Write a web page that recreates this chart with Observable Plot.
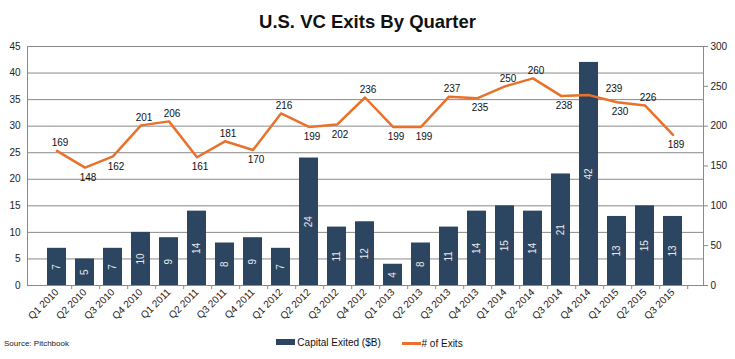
<!DOCTYPE html>
<html>
<head>
<meta charset="utf-8">
<script src="https://cdn.jsdelivr.net/npm/d3@7"></script>
<script src="https://cdn.jsdelivr.net/npm/@observablehq/plot@0.6"></script>
<style>
  html, body { margin: 0; padding: 0; background: #fff; }
  body { width: 735px; height: 359px; font-family: "Liberation Sans", Arial, sans-serif; position: relative; overflow: hidden; }
  #title { height: 42px; line-height: 44px; text-align: center; font-weight: bold; font-size: 18.5px; color: #111; }
  #chart svg { display: block; }
  #foot { position: relative; height: 29px; }
  #source { position: absolute; left: 4px; top: 7px; font-size: 8px; color: #222; }
  #legend { position: absolute; left: 4px; right: 0; top: 4px; text-align: center; font-size: 10px; color: #111; }
  .item { display: inline-flex; align-items: center; margin: 0 9px; }
  .sw-bar { display: inline-block; width: 19px; height: 6px; background: #2C4560; margin-right: 2px; }
  .sw-line { display: inline-block; width: 19px; height: 3px; background: #E8722C; margin-right: 1px; }
</style>
</head>
<body>
<div id="title">U.S. VC Exits By Quarter</div>
<div id="chart"></div>
<div id="foot">
  <div id="source">Source: Pitchbook</div>
  <div id="legend">
    <span class="item"><span class="sw-bar"></span>Capital Exited ($B)</span>
    <span class="item"><span class="sw-line"></span># of Exits</span>
  </div>
</div>
<script>
const quarters = ["Q1 2010","Q2 2010","Q3 2010","Q4 2010","Q1 2011","Q2 2011","Q3 2011","Q4 2011",
  "Q1 2012","Q2 2012","Q3 2012","Q4 2012","Q1 2013","Q2 2013","Q3 2013","Q4 2013",
  "Q1 2014","Q2 2014","Q3 2014","Q4 2014","Q1 2015","Q2 2015","Q3 2015"];
const capital = [7,5,7,10,9,14,8,9,7,24,11,12,4,8,11,14,15,14,21,42,13,15,13];
const exits = [169,148,162,201,206,161,181,170,216,199,202,236,199,199,237,235,250,260,238,239,230,226,189];
const leftTicks = [0,5,10,15,20,25,30,35,40,45];
const rightTicks = [0,50,100,150,200,250,300];

const leftMax = 45, rightMax = 300;
const k = leftMax / rightMax;

const W = 735, mL = 27, mR = 32;
const step = (W - mL - mR) / quarters.length;

const data = quarters.map((q, i) => {
  const prev = i > 0 ? exits[i - 1] : exits[i + 1];
  const next = i < exits.length - 1 ? exits[i + 1] : exits[i - 1];
  const above = exits[i] >= (prev + next) / 2;
  // if the label would sit inside a taller bar, move it beside the bar
  const clash = capital[i] > exits[i] * k - 2;
  return { q, capital: capital[i], exits: exits[i], above, clash };
});

const chart = Plot.plot({
  width: W,
  height: 290,
  marginTop: 4,
  marginLeft: mL,
  marginRight: mR,
  marginBottom: 47,
  style: { fontFamily: "'Liberation Sans', Arial, sans-serif", fontSize: "10px", color: "#222", background: "#fff" },
  x: { domain: quarters, padding: 0.32 },
  y: { domain: [0, leftMax] },
  marks: [
    Plot.gridY(leftTicks, { stroke: "#8a8a8a", strokeOpacity: 1 }),
    Plot.barY(data, { x: "q", y: "capital", fill: "#2C4560" }),
    Plot.frame({ stroke: "#8a8a8a" }),
    Plot.axisY(leftTicks, { anchor: "left", tickSize: 0, tickPadding: 7, label: null, fontSize: 10 }),
    Plot.axisY(rightTicks.map(v => v * k), { anchor: "right", tickSize: 4, tickPadding: 3, stroke: "#8a8a8a", tickFormat: d => Math.round(d / k), label: null, fontSize: 10 }),
    Plot.axisX({ tickSize: 4, stroke: "#8a8a8a", dx: step / 2, tickFormat: () => "", label: null }),
    Plot.axisX({ tickSize: 0, tickPadding: 5, tickRotate: -45, label: null, fontSize: 10 }),
    Plot.text(data, { x: "q", y: d => d.capital / 2, text: d => String(d.capital), rotate: -90, fill: "#e6eaee", fontSize: 10 }),
    Plot.line(data, { x: "q", y: d => d.exits * k, stroke: "#E8722C", strokeWidth: 2.5 }),
    Plot.text(data.filter(d => d.above && !d.clash), { x: "q", y: d => d.exits * k, text: d => String(d.exits), dx: 3, dy: -8, fill: "#111", fontSize: 10 }),
    Plot.text(data.filter(d => !d.above && !d.clash), { x: "q", y: d => d.exits * k, text: d => String(d.exits), dx: 3, dy: 10, fill: "#111", fontSize: 10 }),
    Plot.text(data.filter(d => d.clash), { x: "q", y: d => d.exits * k, text: d => String(d.exits), dx: step * 0.85, dy: -6, fill: "#111", fontSize: 10 })
  ]
});
document.getElementById("chart").appendChild(chart);
</script>
</body>
</html>
